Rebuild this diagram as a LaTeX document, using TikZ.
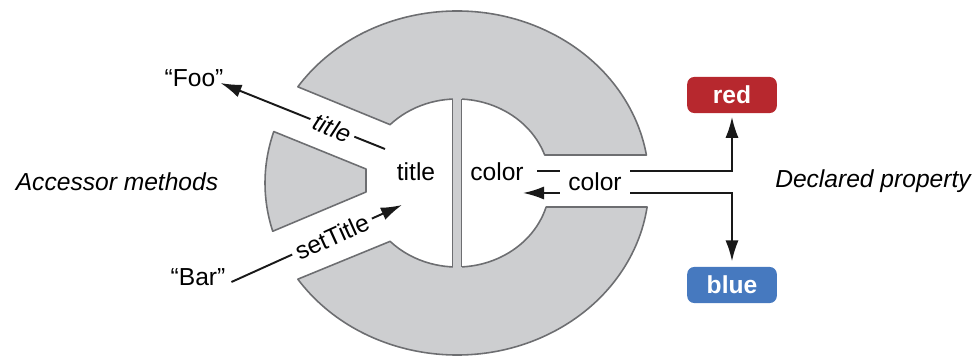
\documentclass[tikz,border=0pt]{standalone}
\usepackage{fontspec}
\setmainfont{Liberation Sans}
\usetikzlibrary{arrows.meta}
\definecolor{ringgray}{HTML}{CDCED0}
\definecolor{ringline}{HTML}{6D6E71}
\definecolor{propred}{HTML}{B7282E}
\definecolor{propblue}{HTML}{4679BF}

\begin{document}
\begin{tikzpicture}[x=0.02cm,y=0.02cm,>={Latex[length=12pt,width=7.5pt]},font=\fontsize{14}{16}\selectfont]
\tikzstyle{ring}=[fill=ringgray,draw=ringline,line width=0.9pt,line join=round]
\tikzstyle{txt}=[inner sep=1pt]
\tikzstyle{lbl}=[fill=white,inner sep=2.5pt]
\tikzstyle{val}=[rounded corners=4pt,minimum width=51pt,minimum height=20.5pt,text=white,font=\fontsize{14}{16}\selectfont\bfseries]
\tikzstyle{conn}=[line width=1.1pt,draw=black!90]
\useasboundingbox (0,0) rectangle (977,358);

% the object: two ring halves, the small wedge and the divider
\begin{scope}[shift={(457,175)}]
\draw[ring] (146:192 and 172) arc[start angle=146,end angle=9.37,x radius=192,y radius=172]
  -- (19.47:93 and 84) arc[start angle=19.47,end angle=136,x radius=93,y radius=84] -- cycle;
\draw[ring] (214:192 and 172) arc[start angle=214,end angle=351.98,x radius=192,y radius=172]
  -- (343.4:93 and 84) arc[start angle=343.4,end angle=224,x radius=93,y radius=84] -- cycle;
\draw[ring] (162.6:192 and 172) arc[start angle=162.6,end angle=196.3,x radius=192,y radius=172]
  -- (-91,-9) -- (-91,14) -- cycle;
\fill[ringgray] (-4.5,-85.5) rectangle (4.5,85.5);
\draw[ringline,line width=0.9pt] (-4.5,-83.9) -- (-4.5,83.9) (4.5,-83.9) -- (4.5,83.9);
\end{scope}

\node[txt] (foo) at (194,280) {“Foo”};
\node[txt] (bar) at (198,81) {“Bar”};
\node[txt] (acc) at (117,176) {\itshape Accessor methods};
\node[txt] (decl) at (873,177) {\itshape Declared property};
\node[txt] (tin) at (416,186) {title};
\node[txt] (cin) at (497,186) {color};
\node[val,fill=propred] (red) at (732,263) {red};
\node[val,fill=propblue] (blue) at (732,73) {blue};

\coordinate (tget) at (385,209);
\coordinate (tset) at (402,153);
\coordinate (cget) at (537,187);
\coordinate (cset) at (523,165);

\draw[conn,->] (tget) -- node[lbl,sloped,pos=0.32]{\itshape title} ([shift={(-5,-5)}]foo.east);
\draw[conn,->] ([shift={(4,-5)}]bar.east) -- node[lbl,sloped,pos=0.59]{setTitle} (tset);
\draw[conn,->,shorten >=2pt] (cget) -| (red.south);
\draw[conn,<->,shorten >=3pt] (cset) -| (blue.north);
\node[lbl,inner xsep=5pt] (cprop) at (595,176) {color};
\end{tikzpicture}
\end{document}
